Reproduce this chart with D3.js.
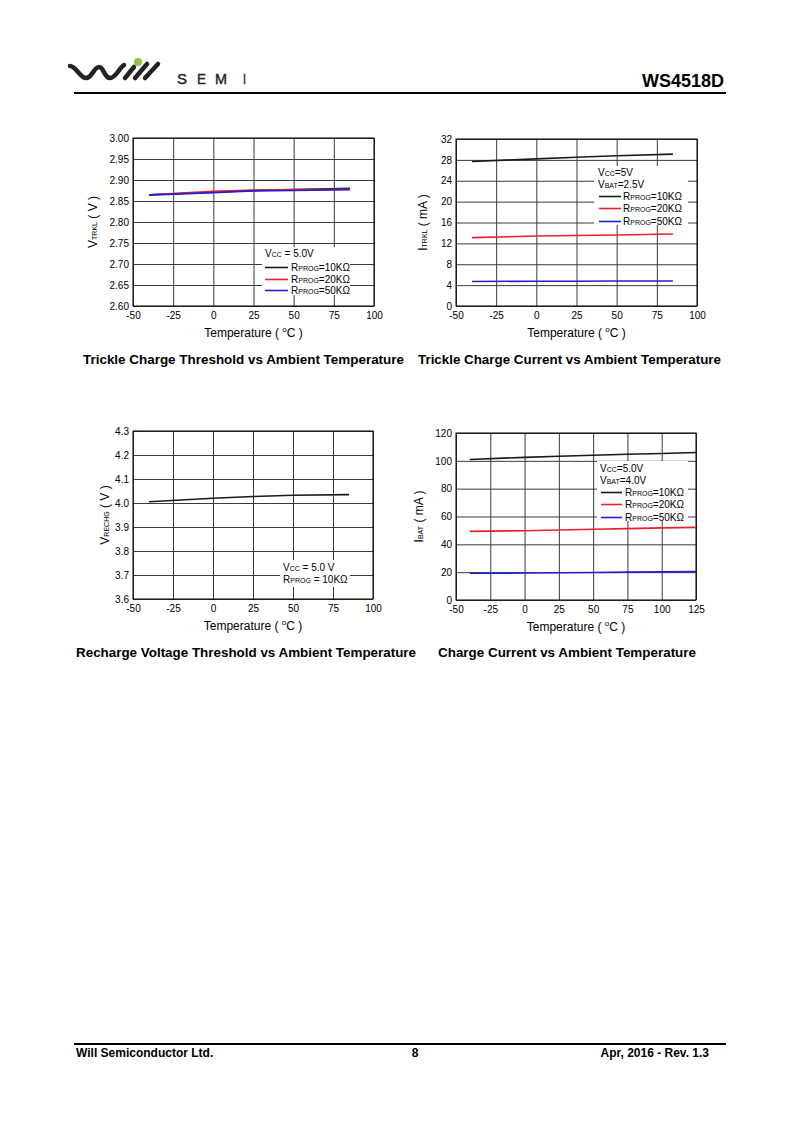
<!DOCTYPE html>
<html>
<head>
<meta charset="utf-8">
<script src="https://cdn.jsdelivr.net/npm/d3@7"></script>
<style>
  body { margin: 0; background: #fff; }
  svg { display: block; font-family: "Liberation Sans", Arial, sans-serif; }
</style>
</head>
<body>
<svg></svg>
<script>
// ---- data ----
const tempsA = [-40, 0, 25, 50, 85]
const tempsB = [-40, 0, 25, 50, 75, 100, 125]

const vtrkl10k = [2.865, 2.871, 2.875, 2.877, 2.880]
const vtrkl20k = [2.865, 2.873, 2.876, 2.877, 2.878]
const vtrkl50k = [2.864, 2.870, 2.874, 2.875, 2.877]

const itrkl10k = [27.7, 28.2, 28.5, 28.8, 29.1]
const itrkl20k = [13.1, 13.4, 13.5, 13.6, 13.8]
const itrkl50k = [4.7, 4.75, 4.75, 4.8, 4.8]

const vrechg10k = [4.005, 4.020, 4.027, 4.032, 4.035]

const ibat10k = [101, 102.5, 103.3, 104, 104.7, 105.3, 106]
const ibat20k = [49.3, 49.8, 50.3, 50.8, 51.3, 51.8, 52.2]
const ibat50k = [19.2, 19.4, 19.6, 19.8, 20.0, 20.2, 20.4]

const xTicksA = [-50, -25, 0, 25, 50, 75, 100]
const xTicksB = [-50, -25, 0, 25, 50, 75, 100, 125]
const yTicks1 = [2.60, 2.65, 2.70, 2.75, 2.80, 2.85, 2.90, 2.95, 3.00]
const yTicks2 = [0, 4, 8, 12, 16, 20, 24, 28, 32]
const yTicks3 = [3.6, 3.7, 3.8, 3.9, 4.0, 4.1, 4.2, 4.3]
const yTicks4 = [0, 20, 40, 60, 80, 100, 120]

const black = "#1a1a1a"
const red = "#e8202a"
const blue = "#2020d0"

let width = 800
let height = 1131

// plain hyphen for negatives, as on the datasheet
const locale = d3.formatLocale({ decimal: ".", thousands: ",", grouping: [3], currency: ["", ""], minus: "-" })

let svg = d3.select("svg").attr("width", width).attr("height", height)

// text with small "subscript" parts: parts = [[text, small?], ...]
const richText = (g, parts, size, small) => {
    parts.forEach(p => {
        g.append("tspan").attr("font-size", p[1] ? small : size).text(p[0])
    })
    return g
}

const drawChart = (cfg) => {
    let g = svg.append("g")

    let xScale = d3.scaleLinear().domain(cfg.xDomain).range([cfg.left, cfg.right])
    let yScale = d3.scaleLinear().domain(cfg.yDomain).range([cfg.bottom, cfg.top])

    // grid
    let xAxis = d3.axisBottom(xScale)
        .tickValues(cfg.xTicks)
        .tickFormat(locale.format("d"))
        .tickSize(-(cfg.bottom - cfg.top))
        .tickPadding(5)
    let yAxis = d3.axisLeft(yScale)
        .tickValues(cfg.yTicks)
        .tickFormat(locale.format(cfg.yFormat))
        .tickSize(-(cfg.right - cfg.left))
        .tickPadding(4)

    let gx = g.append("g")
        .attr("transform", "translate(0," + cfg.bottom + ")")
        .call(xAxis)
    let gy = g.append("g")
        .attr("transform", "translate(" + cfg.left + ",0)")
        .call(yAxis)

    ;[gx, gy].forEach(a => {
        a.select(".domain").remove()
        a.selectAll("line").attr("stroke", "#3a3a3a").attr("stroke-width", 1)
        a.selectAll("text").attr("font-size", 10).attr("fill", "#000")
            .attr("font-family", "Liberation Sans, Arial, sans-serif")
    })
    gx.selectAll("text").attr("dy", "0.75em")

    // legend background hides the grid
    if (cfg.legendBox) {
        g.append("rect")
            .attr("x", cfg.legendBox[0]).attr("y", cfg.legendBox[1])
            .attr("width", cfg.legendBox[2]).attr("height", cfg.legendBox[3])
            .attr("fill", "#fff")
    }

    // frame
    g.append("rect")
        .attr("x", cfg.left).attr("y", cfg.top)
        .attr("width", cfg.right - cfg.left).attr("height", cfg.bottom - cfg.top)
        .attr("fill", "none").attr("stroke", "#000").attr("stroke-width", 1)

    // series
    let line = d3.line()
        .x(d => xScale(d[0]))
        .y(d => yScale(d[1]))

    cfg.series.forEach(s => {
        g.append("path")
            .datum(d3.zip(cfg.temps, s.values))
            .attr("d", line)
            .attr("fill", "none")
            .attr("stroke", s.color)
            .attr("stroke-width", 1.6)
    })

    // legend
    cfg.legend.forEach(item => {
        let t = g.append("text")
            .attr("x", item.x).attr("y", item.y)
            .attr("fill", "#000")
        richText(t, item.parts, 10, 7)
        if (item.color) {
            g.append("line")
                .attr("x1", item.lx1).attr("x2", item.lx2)
                .attr("y1", item.y - 3.5).attr("y2", item.y - 3.5)
                .attr("stroke", item.color).attr("stroke-width", 1.6)
        }
    })

    // x axis title
    let xt = g.append("text")
        .attr("x", (cfg.left + cfg.right) / 2).attr("y", cfg.bottom + 31)
        .attr("text-anchor", "middle").attr("font-size", 12)
    xt.append("tspan").text("Temperature ( ")
    xt.append("tspan").attr("font-size", 8).attr("dy", -5).text("o")
    xt.append("tspan").attr("dy", 5).text("C )")

    // y axis title
    let yt = g.append("text")
        .attr("transform", "translate(" + cfg.yLabelX + "," + ((cfg.top + cfg.bottom) / 2) + ") rotate(-90)")
        .attr("text-anchor", "middle")
    richText(yt, cfg.yLabel, 12, 7)

    // caption
    g.append("text")
        .attr("x", cfg.captionX).attr("y", cfg.captionY)
        .attr("text-anchor", "middle")
        .attr("font-size", 13.5).attr("font-weight", "bold")
        .attr("textLength", cfg.captionW).attr("lengthAdjust", "spacingAndGlyphs")
        .text(cfg.caption)
}

// ---- header ----
const header = () => {
    // logo wave
    svg.append("path")
        .attr("d", "M70,66 C76,66 80,78 86,78 C92,78 94,67 99,67 C104,67 104,78 110,78 C116,78 119,68 124,65")
        .attr("fill", "none").attr("stroke", "#222").attr("stroke-width", 4.5)
        .attr("stroke-linecap", "round")
    ;[[125, 78, 134, 67], [135, 78, 147, 64], [145, 78, 158, 64]].forEach(s => {
        svg.append("line")
            .attr("x1", s[0]).attr("y1", s[1]).attr("x2", s[2]).attr("y2", s[3])
            .attr("stroke", "#222").attr("stroke-width", 4.5).attr("stroke-linecap", "round")
    })
    svg.append("circle").attr("cx", 138).attr("cy", 62).attr("r", 4).attr("fill", "#8cc63f")
    // "SEMI" in wide, evenly spaced letters
    ;[["S", 177, 10], ["E", 197, 9], ["M", 215, 12], ["I", 243, 3]].forEach(c => {
        svg.append("text")
            .attr("x", c[1]).attr("y", 84)
            .attr("font-size", 15).attr("fill", "#222")
            .attr("stroke", "#222").attr("stroke-width", 0.4)
            .attr("textLength", c[2]).attr("lengthAdjust", "spacingAndGlyphs")
            .text(c[0])
    })

    svg.append("text")
        .attr("x", 724).attr("y", 87)
        .attr("text-anchor", "end")
        .attr("font-size", 18).attr("font-weight", "bold")
        .text("WS4518D")

    svg.append("line")
        .attr("x1", 74).attr("x2", 726).attr("y1", 93).attr("y2", 93)
        .attr("stroke", "#000").attr("stroke-width", 2.2)
}

const footer = () => {
    svg.append("line")
        .attr("x1", 74).attr("x2", 726).attr("y1", 1044).attr("y2", 1044)
        .attr("stroke", "#000").attr("stroke-width", 2.2)
    svg.append("text").attr("x", 76).attr("y", 1057)
        .attr("font-size", 12).attr("font-weight", "bold")
        .text("Will Semiconductor Ltd.")
    svg.append("text").attr("x", 415).attr("y", 1057)
        .attr("text-anchor", "middle")
        .attr("font-size", 12).attr("font-weight", "bold")
        .text("8")
    svg.append("text").attr("x", 709).attr("y", 1057)
        .attr("text-anchor", "end")
        .attr("font-size", 12).attr("font-weight", "bold")
        .text("Apr, 2016 - Rev. 1.3")
}

const rprog = (v) => [["R", false], ["PROG", true], ["=" + v + "KΩ", false]]

header()

drawChart({
    left: 133, right: 374, top: 138, bottom: 306,
    xDomain: [-50, 100], yDomain: [2.60, 3.00],
    xTicks: xTicksA, yTicks: yTicks1, yFormat: ".2f",
    temps: tempsA,
    series: [
        { values: vtrkl10k, color: black },
        { values: vtrkl20k, color: red },
        { values: vtrkl50k, color: blue }
    ],
    legendBox: [262, 247, 88, 48],
    legend: [
        { x: 265, y: 257, parts: [["V", false], ["CC", true], [" = 5.0V", false]] },
        { x: 291, y: 271, parts: rprog(10), color: black, lx1: 265, lx2: 288 },
        { x: 291, y: 283, parts: rprog(20), color: red, lx1: 265, lx2: 288 },
        { x: 291, y: 294, parts: rprog(50), color: blue, lx1: 265, lx2: 288 }
    ],
    yLabelX: 97,
    yLabel: [["V", false], ["TRKL", true], [" ( V )", false]],
    caption: "Trickle Charge Threshold vs Ambient Temperature",
    captionX: 243.5, captionY: 364, captionW: 321
})

drawChart({
    left: 456, right: 697, top: 139, bottom: 306,
    xDomain: [-50, 100], yDomain: [0, 32],
    xTicks: xTicksA, yTicks: yTicks2, yFormat: "d",
    temps: tempsA,
    series: [
        { values: itrkl10k, color: black },
        { values: itrkl20k, color: red },
        { values: itrkl50k, color: blue }
    ],
    legendBox: [594, 166, 94, 59],
    legend: [
        { x: 598, y: 176, parts: [["V", false], ["CC", true], ["=5V", false]] },
        { x: 598, y: 188, parts: [["V", false], ["BAT", true], ["=2.5V", false]] },
        { x: 623, y: 200, parts: rprog(10), color: black, lx1: 599, lx2: 621 },
        { x: 623, y: 212, parts: rprog(20), color: red, lx1: 599, lx2: 621 },
        { x: 623, y: 225, parts: rprog(50), color: blue, lx1: 599, lx2: 621 }
    ],
    yLabelX: 427,
    yLabel: [["I", false], ["TRKL", true], [" ( mA )", false]],
    caption: "Trickle Charge Current vs Ambient Temperature",
    captionX: 569.5, captionY: 364, captionW: 303
})

drawChart({
    left: 133, right: 373, top: 431, bottom: 599,
    xDomain: [-50, 100], yDomain: [3.6, 4.3],
    xTicks: xTicksA, yTicks: yTicks3, yFormat: ".1f",
    temps: tempsA,
    series: [
        { values: vrechg10k, color: black }
    ],
    legendBox: [280, 560, 70, 27],
    legend: [
        { x: 283, y: 571, parts: [["V", false], ["CC", true], [" = 5.0 V", false]] },
        { x: 283, y: 583, parts: [["R", false], ["PROG", true], [" = 10KΩ", false]] }
    ],
    yLabelX: 109,
    yLabel: [["V", false], ["RECHG", true], [" ( V )", false]],
    caption: "Recharge Voltage Threshold vs Ambient Temperature",
    captionX: 246, captionY: 657, captionW: 340
})

drawChart({
    left: 456, right: 696, top: 433, bottom: 600,
    xDomain: [-50, 125], yDomain: [0, 120],
    xTicks: xTicksB, yTicks: yTicks4, yFormat: "d",
    temps: tempsB,
    series: [
        { values: ibat10k, color: black },
        { values: ibat20k, color: red },
        { values: ibat50k, color: blue }
    ],
    legendBox: [597, 461, 91, 60],
    legend: [
        { x: 600, y: 472, parts: [["V", false], ["CC", true], ["=5.0V", false]] },
        { x: 600, y: 484, parts: [["V", false], ["BAT", true], ["=4.0V", false]] },
        { x: 625, y: 496, parts: rprog(10), color: black, lx1: 601, lx2: 622 },
        { x: 625, y: 508, parts: rprog(20), color: red, lx1: 601, lx2: 622 },
        { x: 625, y: 521, parts: rprog(50), color: blue, lx1: 601, lx2: 622 }
    ],
    yLabelX: 423,
    yLabel: [["I", false], ["BAT", true], [" ( mA )", false]],
    caption: "Charge Current vs Ambient Temperature",
    captionX: 567, captionY: 657, captionW: 258
})

footer()
</script>
</body>
</html>
